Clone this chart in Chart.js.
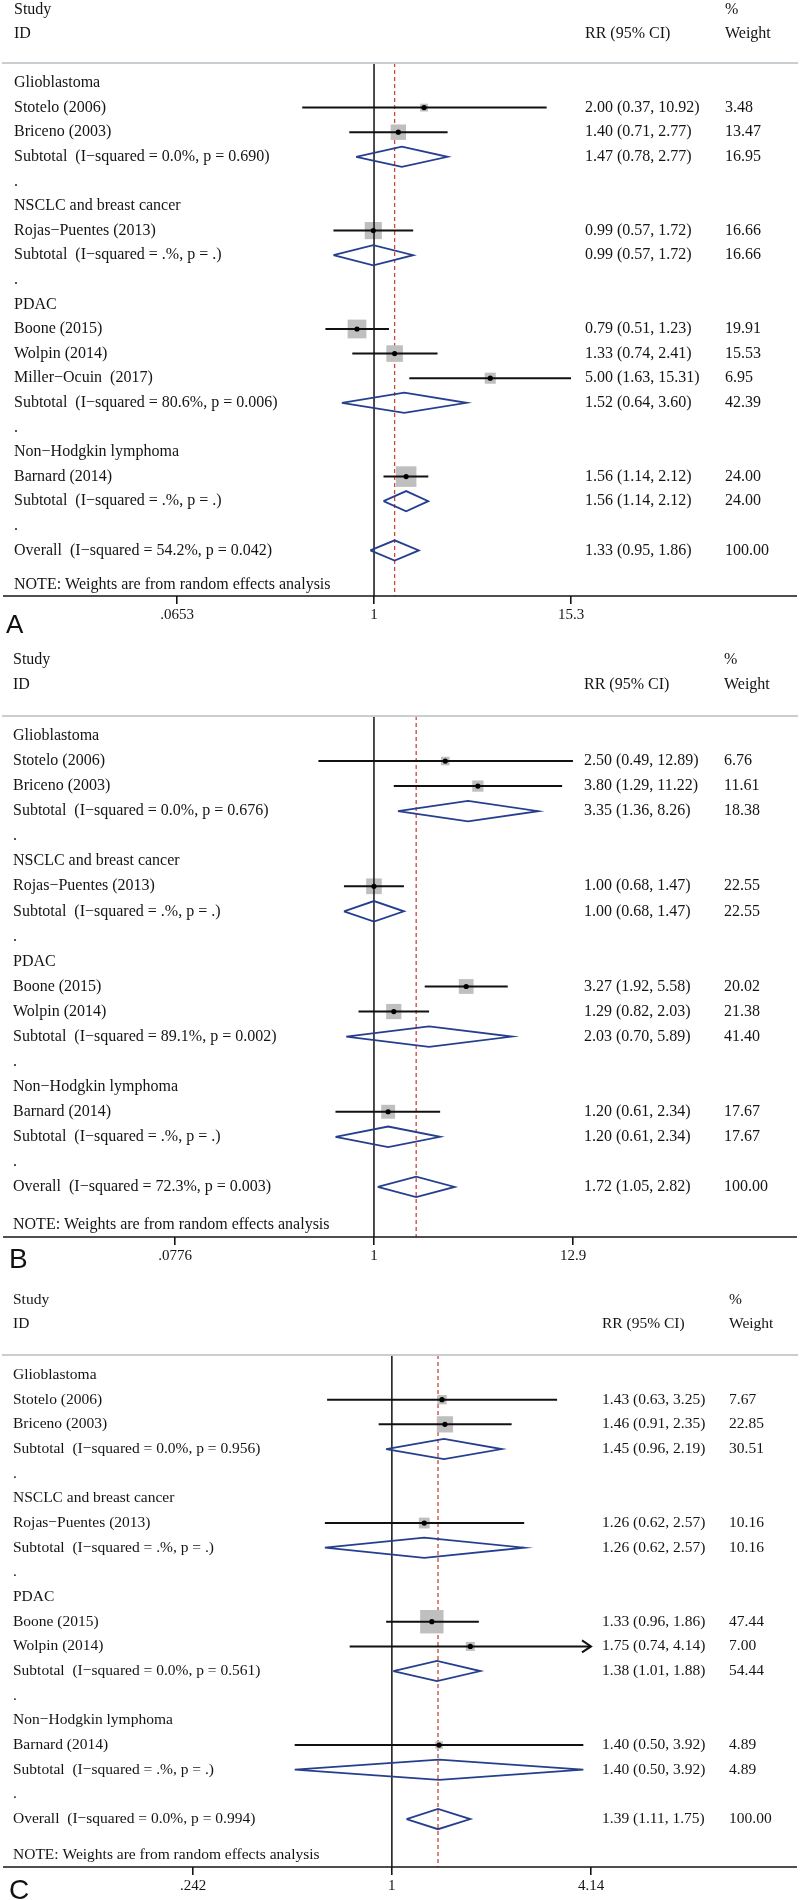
<!DOCTYPE html>
<html><head><meta charset="utf-8">
<script src="https://cdn.jsdelivr.net/npm/chart.js@4.4.1/dist/chart.umd.min.js"></script>
<style>
html,body{margin:0;padding:0;background:#fff;}
#wrap{position:relative;width:800px;height:1900px;overflow:hidden;}
canvas{position:absolute;left:0;}
</style></head><body>
<div id="wrap">
<canvas id="cA" width="800" height="640" style="top:0px"></canvas>
<canvas id="cB" width="800" height="635" style="top:640px"></canvas>
<canvas id="cC" width="800" height="625" style="top:1275px"></canvas>
</div>
<script>
// ---------- Panel A ----------
const rowLabelsA = ['Glioblastoma','Stotelo (2006)','Briceno (2003)','Subtotal  (I\u2212squared = 0.0%, p = 0.690)','.',
  'NSCLC and breast cancer','Rojas\u2212Puentes (2013)','Subtotal  (I\u2212squared = .%, p = .)','.',
  'PDAC','Boone (2015)','Wolpin (2014)','Miller\u2212Ocuin  (2017)','Subtotal  (I\u2212squared = 80.6%, p = 0.006)','.',
  'Non\u2212Hodgkin lymphoma','Barnard (2014)','Subtotal  (I\u2212squared = .%, p = .)','.',
  'Overall  (I\u2212squared = 54.2%, p = 0.042)'];
const rowKindsA = ['h','s','s','d','g','h','s','d','g','h','s','s','s','d','g','h','s','d','g','d'];
const estA    = [null,2.00,1.40,1.47,null,null,0.99,0.99,null,null,0.79,1.33,5.00,1.52,null,null,1.56,1.56,null,1.33];
const lowA    = [null,0.37,0.71,0.78,null,null,0.57,0.57,null,null,0.51,0.74,1.63,0.64,null,null,1.14,1.14,null,0.95];
const highA   = [null,10.92,2.77,2.77,null,null,1.72,1.72,null,null,1.23,2.41,15.31,3.60,null,null,2.12,2.12,null,1.86];
const weightA = [null,3.48,13.47,16.95,null,null,16.66,16.66,null,null,19.91,15.53,6.95,42.39,null,null,24.00,24.00,null,100.00];
const tickValuesA = [0.0653, 1, 15.3];
const tickLabelsA = ['.0653', '1', '15.3'];
const clippedA = [];

// ---------- Panel B ----------
const rowLabelsB = ['Glioblastoma','Stotelo (2006)','Briceno (2003)','Subtotal  (I\u2212squared = 0.0%, p = 0.676)','.',
  'NSCLC and breast cancer','Rojas\u2212Puentes (2013)','Subtotal  (I\u2212squared = .%, p = .)','.',
  'PDAC','Boone (2015)','Wolpin (2014)','Subtotal  (I\u2212squared = 89.1%, p = 0.002)','.',
  'Non\u2212Hodgkin lymphoma','Barnard (2014)','Subtotal  (I\u2212squared = .%, p = .)','.',
  'Overall  (I\u2212squared = 72.3%, p = 0.003)'];
const rowKindsB = ['h','s','s','d','g','h','s','d','g','h','s','s','d','g','h','s','d','g','d'];
const estB    = [null,2.50,3.80,3.35,null,null,1.00,1.00,null,null,3.27,1.29,2.03,null,null,1.20,1.20,null,1.72];
const lowB    = [null,0.49,1.29,1.36,null,null,0.68,0.68,null,null,1.92,0.82,0.70,null,null,0.61,0.61,null,1.05];
const highB   = [null,12.89,11.22,8.26,null,null,1.47,1.47,null,null,5.58,2.03,5.89,null,null,2.34,2.34,null,2.82];
const weightB = [null,6.76,11.61,18.38,null,null,22.55,22.55,null,null,20.02,21.38,41.40,null,null,17.67,17.67,null,100.00];
const tickValuesB = [0.0776, 1, 12.9];
const tickLabelsB = ['.0776', '1', '12.9'];
const clippedB = [];

// ---------- Panel C ----------
const rowLabelsC = ['Glioblastoma','Stotelo (2006)','Briceno (2003)','Subtotal  (I\u2212squared = 0.0%, p = 0.956)','.',
  'NSCLC and breast cancer','Rojas\u2212Puentes (2013)','Subtotal  (I\u2212squared = .%, p = .)','.',
  'PDAC','Boone (2015)','Wolpin (2014)','Subtotal  (I\u2212squared = 0.0%, p = 0.561)','.',
  'Non\u2212Hodgkin lymphoma','Barnard (2014)','Subtotal  (I\u2212squared = .%, p = .)','.',
  'Overall  (I\u2212squared = 0.0%, p = 0.994)'];
const rowKindsC = ['h','s','s','d','g','h','s','d','g','h','s','s','d','g','h','s','d','g','d'];
const estC    = [null,1.43,1.46,1.45,null,null,1.26,1.26,null,null,1.33,1.75,1.38,null,null,1.40,1.40,null,1.39];
const lowC    = [null,0.63,0.91,0.96,null,null,0.62,0.62,null,null,0.96,0.74,1.01,null,null,0.50,0.50,null,1.11];
const highC   = [null,3.25,2.35,2.19,null,null,2.57,2.57,null,null,1.86,4.14,1.88,null,null,3.92,3.92,null,1.75];
const weightC = [null,7.67,22.85,30.51,null,null,10.16,10.16,null,null,47.44,7.00,54.44,null,null,4.89,4.89,null,100.00];
const tickValuesC = [0.242, 1, 4.14];
const tickLabelsC = ['.242', '1', '4.14'];
const clippedC = ['Wolpin (2014)'];

const headerStudy = 'Study', headerID = 'ID', headerRR = 'RR (95% CI)', headerPct = '%', headerWeight = 'Weight';
const noteText = 'NOTE: Weights are from random effects analysis';

const SERIF = '"Liberation Serif", "Times New Roman", serif';
const TXT = '#141414';

function makePanel(id, P) {
  const n = P.labels.length;
  const H = 0.41;
  const ds = [];
  const overall = P.est[n - 1];
  ds.push({data:[{x:overall,y:P.yMin},{x:overall,y:P.yMax}], showLine:true, borderColor:'#c8473c',
    borderWidth:1.3, borderDash:[4,3], pointRadius:0, order:7});
  const sq = [], sqR = [], dots = [];
  for (let i = 0; i < n; i++) {
    if (P.kinds[i] === 's') {
      sq.push({x:P.est[i], y:i});
      sqR.push(P.boxK * Math.sqrt(P.weight[i]) / (2 * Math.SQRT1_2));
      dots.push({x:P.est[i], y:i});
    }
  }
  ds.push({data:sq, pointStyle:'rect', pointRadius:sqR, pointBackgroundColor:'#bfbfbf', pointBorderWidth:0, showLine:false, order:6});
  ds.push({data:[{x:1,y:P.yMin},{x:1,y:P.yMax}], showLine:true, borderColor:'#111', borderWidth:1.5, pointRadius:0, order:5});
  for (let i = 0; i < n; i++) {
    if (P.kinds[i] === 's') {
      ds.push({data:[{x:P.low[i],y:i},{x:P.high[i],y:i}], showLine:true, borderColor:'#111', borderWidth:2, pointRadius:0, order:4});
    } else if (P.kinds[i] === 'd') {
      ds.push({data:[{x:P.low[i],y:i},{x:P.est[i],y:i-H},{x:P.high[i],y:i},{x:P.est[i],y:i+H},{x:P.low[i],y:i}],
        showLine:true, borderColor:'#253f8e', borderWidth:1.8, pointRadius:0, order:3, borderJoinStyle:'miter'});
    }
  }
  ds.push({data:dots, pointStyle:'circle', pointRadius:2.6, pointBackgroundColor:'#000', pointBorderWidth:0, showLine:false, order:1});

  const textPlugin = {
    id:'forestText'+id,
    afterDraw(chart) {
      const ctx = chart.ctx, ca = chart.chartArea;
      const xs = chart.scales.x, ys = chart.scales.y;
      ctx.save();
      ctx.strokeStyle = '#c9ced3'; ctx.lineWidth = 2;
      ctx.beginPath(); ctx.moveTo(2, ca.top); ctx.lineTo(798, ca.top); ctx.stroke();
      ctx.strokeStyle = '#151515'; ctx.lineWidth = 1.6;
      ctx.beginPath(); ctx.moveTo(3, ca.bottom); ctx.lineTo(797, ca.bottom); ctx.stroke();
      ctx.fillStyle = TXT;
      ctx.font = P.fontSize + 'px ' + SERIF;
      ctx.textBaseline = 'middle'; ctx.textAlign = 'left';
      ctx.fillText(headerStudy, P.labelX, ca.top - P.hdr1);
      ctx.fillText(headerID, P.labelX, ca.top - P.hdr2);
      ctx.fillText(headerRR, P.rrX, ca.top - P.hdr2);
      ctx.fillText(headerPct, P.wX, ca.top - P.hdr1);
      ctx.fillText(headerWeight, P.wX, ca.top - P.hdr2);
      for (let i = 0; i < n; i++) {
        const y = ys.getPixelForValue(i);
        ctx.fillText(P.labels[i], P.labelX, y);
        if (P.kinds[i] === 's' || P.kinds[i] === 'd') {
          ctx.fillText(P.est[i].toFixed(2) + ' (' + P.low[i].toFixed(2) + ', ' + P.high[i].toFixed(2) + ')', P.rrX, y);
          ctx.fillText(P.weight[i].toFixed(2), P.wX, y);
        }
        if (P.kinds[i] === 's' && P.clipped.indexOf(P.labels[i]) >= 0) {
          const xe = xs.getPixelForValue(P.high[i]);
          ctx.strokeStyle = '#111'; ctx.lineWidth = 2;
          ctx.beginPath(); ctx.moveTo(xe - 9, y - 6); ctx.lineTo(xe, y); ctx.lineTo(xe - 9, y + 6); ctx.stroke();
        }
      }
      ctx.fillText(noteText, P.labelX, ca.bottom - P.noteOff);
      ctx.font = P.letterSize + 'px "Liberation Sans", Arial, sans-serif';
      ctx.fillStyle = '#111';
      ctx.fillText(P.letter, P.letterX, ca.bottom + P.letterOff);
      ctx.restore();
    }
  };

  return new Chart(document.getElementById(id), {
    type:'scatter',
    data:{datasets:ds},
    options:{
      responsive:false, animation:false, events:[],
      layout:{padding:P.padding},
      plugins:{legend:{display:false}, tooltip:{enabled:false}},
      elements:{line:{tension:0, fill:false}},
      scales:{
        x:{type:'logarithmic', min:P.ticks[0], max:P.ticks[P.ticks.length-1],
          afterBuildTicks:(s) => { s.ticks = P.ticks.map(v => ({value:v})); },
          afterFit:(s) => { s.height = 30; },
          ticks:{autoSkip:false, maxRotation:0, minRotation:0, padding:2, color:TXT,
            font:{family:'Liberation Serif', size:15},
            callback:(v, i) => P.tickLabels[i]},
          grid:{drawOnChartArea:false, drawTicks:true, tickLength:8, color:'#151515', lineWidth:1.6},
          border:{display:false}},
        y:{type:'linear', reverse:true, min:P.yMin, max:P.yMax, display:false}
      }
    },
    plugins:[textPlugin]
  });
}

makePanel('cA', {labels:rowLabelsA, kinds:rowKindsA, est:estA, low:lowA, high:highA, weight:weightA,
  ticks:tickValuesA, tickLabels:tickLabelsA, clipped:clippedA, boxK:4.2,
  yMin:-0.813, yMax:20.854, padding:{left:177, right:229, top:63, bottom:14},
  fontSize:16, labelX:14, rrX:585, wX:725, hdr1:53, hdr2:29, noteOff:11,
  letter:'A', letterSize:26, letterX:6, letterOff:30});
makePanel('cB', {labels:rowLabelsB, kinds:rowKindsB, est:estB, low:lowB, high:highB, weight:weightB,
  ticks:tickValuesB, tickLabels:tickLabelsB, clipped:clippedB, boxK:3.3,
  yMin:-0.798, yMax:20.0, padding:{left:175, right:227, top:76, bottom:8},
  fontSize:16, labelX:13, rrX:584, wX:724, hdr1:56, hdr2:31, noteOff:12,
  letter:'B', letterSize:28, letterX:9, letterOff:23});
makePanel('cC', {labels:rowLabelsC, kinds:rowKindsC, est:estC, low:lowC, high:highC, weight:weightC,
  ticks:tickValuesC, tickLabels:tickLabelsC, clipped:clippedC, boxK:3.4,
  yMin:-0.811, yMax:19.943, padding:{left:193, right:209, top:80, bottom:3},
  fontSize:15.5, labelX:13, rrX:602, wX:729, hdr1:55, hdr2:31, noteOff:12,
  letter:'C', letterSize:28, letterX:9, letterOff:24});
</script>
</body></html>
